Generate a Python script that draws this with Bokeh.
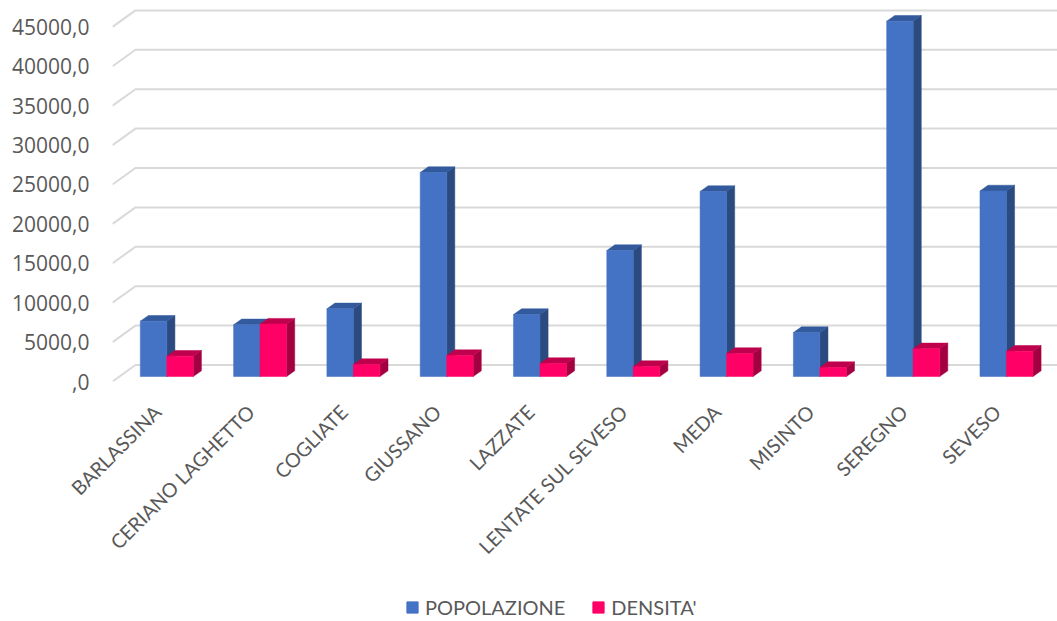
from bokeh.embed import file_html
from bokeh.layouts import column
from bokeh.models import FixedTicker, Legend, LegendItem, LinearAxis, Range1d
from bokeh.plotting import figure
from bokeh.resources import INLINE

comuni = ["BARLASSINA", "CERIANO LAGHETTO", "COGLIATE", "GIUSSANO", "LAZZATE",
          "LENTATE SUL SEVESO", "MEDA", "MISINTO", "SEREGNO", "SEVESO"]
popolazione = [7020, 6560, 8590, 25890, 7870, 15990, 23480, 5580, 45090, 23550]
densita = [2580, 6650, 1520, 2660, 1650, 1270, 2920, 1140, 3515, 3210]
tick_values = [0, 5000, 10000, 15000, 20000, 25000, 30000, 35000, 40000, 45000]
tick_labels = [",0", "5000,0", "10000,0", "15000,0", "20000,0", "25000,0",
               "30000,0", "35000,0", "40000,0", "45000,0"]

# Pseudo-3D projection, in data units
BAR_W = 0.284
DEPTH_X = 0.087
DEPTH_Y = 723
BASE_Y = 634
WALL_X = 0.246
WALL_Y = 2094
LABEL_SHIFT = -0.1
GRID = "#D9D9D9"
TEXT = "#595959"
BLUE = "#4472C4"
RED = "#FF0066"

p = figure(width=1057, height=575, output_backend="svg", toolbar_location=None,
           x_range=Range1d(-0.582, 9.547), y_range=Range1d(0, 48350),
           min_border_left=112, min_border_right=0, min_border_top=0, min_border_bottom=194,
           x_axis_location=None, y_axis_location=None)
p.outline_line_color = None
p.grid.visible = False

# Floor-to-wall grid lines
left = p.x_range.start
right = p.x_range.end
xs = [[left, left + WALL_X, right] for _ in tick_values]
ys = [[v, v + WALL_Y, v + WALL_Y] for v in tick_values]
p.multi_line(xs, ys, line_color=GRID, line_width=2)


def draw_series(values, offset, front, side, top):
    x0 = [i + offset for i in range(len(values))]
    x1 = [x + BAR_W for x in x0]
    b = BASE_Y
    side_x = [[r, r + DEPTH_X, r + DEPTH_X, r] for r in x1]
    side_y = [[b, b + DEPTH_Y, v + b + DEPTH_Y, v + b] for v in values]
    top_x = [[l, l + DEPTH_X, r + DEPTH_X, r] for l, r in zip(x0, x1)]
    top_y = [[v + b, v + b + DEPTH_Y, v + b + DEPTH_Y, v + b] for v in values]
    p.patches(side_x, side_y, fill_color=side, line_color=side, line_width=0.5)
    p.patches(top_x, top_y, fill_color=top, line_color=top, line_width=0.5)
    p.quad(left=x0, right=x1, bottom=[b] * len(values),
           top=[v + b for v in values], fill_color=front,
           line_color=front, line_alpha=0.5, line_width=1)


draw_series(popolazione, -BAR_W, BLUE, "#2B4A80", "#335A9C")
draw_series(densita, 0, RED, "#A30041", "#BF004C")

y_axis = LinearAxis(ticker=FixedTicker(ticks=tick_values),
                    major_label_overrides=dict(zip(tick_values, tick_labels)))
y_axis.axis_line_color = None
y_axis.major_tick_line_color = None
y_axis.minor_tick_line_color = None
y_axis.major_label_standoff = 17
y_axis.major_label_text_font = "Open Sans"
y_axis.major_label_text_font_size = "21px"
y_axis.major_label_text_color = TEXT
p.add_layout(y_axis, "left")

label_ticks = [i + LABEL_SHIFT for i in range(len(comuni))]
x_axis = LinearAxis(ticker=FixedTicker(ticks=label_ticks),
                    major_label_overrides=dict(zip(label_ticks, comuni)))
x_axis.axis_line_color = None
x_axis.major_tick_line_color = None
x_axis.minor_tick_line_color = None
x_axis.major_label_standoff = 21
x_axis.major_label_orientation = 0.785
x_axis.major_label_text_font = "Lato"
x_axis.major_label_text_font_size = "19.7px"
x_axis.major_label_text_color = TEXT
p.add_layout(x_axis, "below")

# Key in its own strip under the plot; its swatch glyphs sit outside the visible range
key = figure(width=1057, height=46, output_backend="svg", toolbar_location=None,
             x_range=Range1d(0, 1), y_range=Range1d(0, 1),
             min_border_left=112, min_border_right=0, min_border_top=0, min_border_bottom=0,
             x_axis_location=None, y_axis_location=None)
key.outline_line_color = None
key.grid.visible = False
blue_swatch = key.quad(left=[2], right=[3], top=[3], bottom=[2], fill_color=BLUE, line_color=BLUE)
red_swatch = key.quad(left=[2], right=[3], top=[3], bottom=[2], fill_color=RED, line_color=RED)
legend = Legend(items=[LegendItem(label="POPOLAZIONE", renderers=[blue_swatch]),
                       LegendItem(label="DENSITA'", renderers=[red_swatch])],
                orientation="horizontal", location=(293, 2),
                border_line_color=None, background_fill_alpha=0,
                glyph_width=14, glyph_height=14, spacing=26, label_standoff=6,
                padding=0, margin=0,
                label_text_font="Lato", label_text_font_size="20px",
                label_text_color=TEXT)
key.add_layout(legend, "center")

page = column(p, key, spacing=0)
open("out.html", "w").write(file_html(page, INLINE))
